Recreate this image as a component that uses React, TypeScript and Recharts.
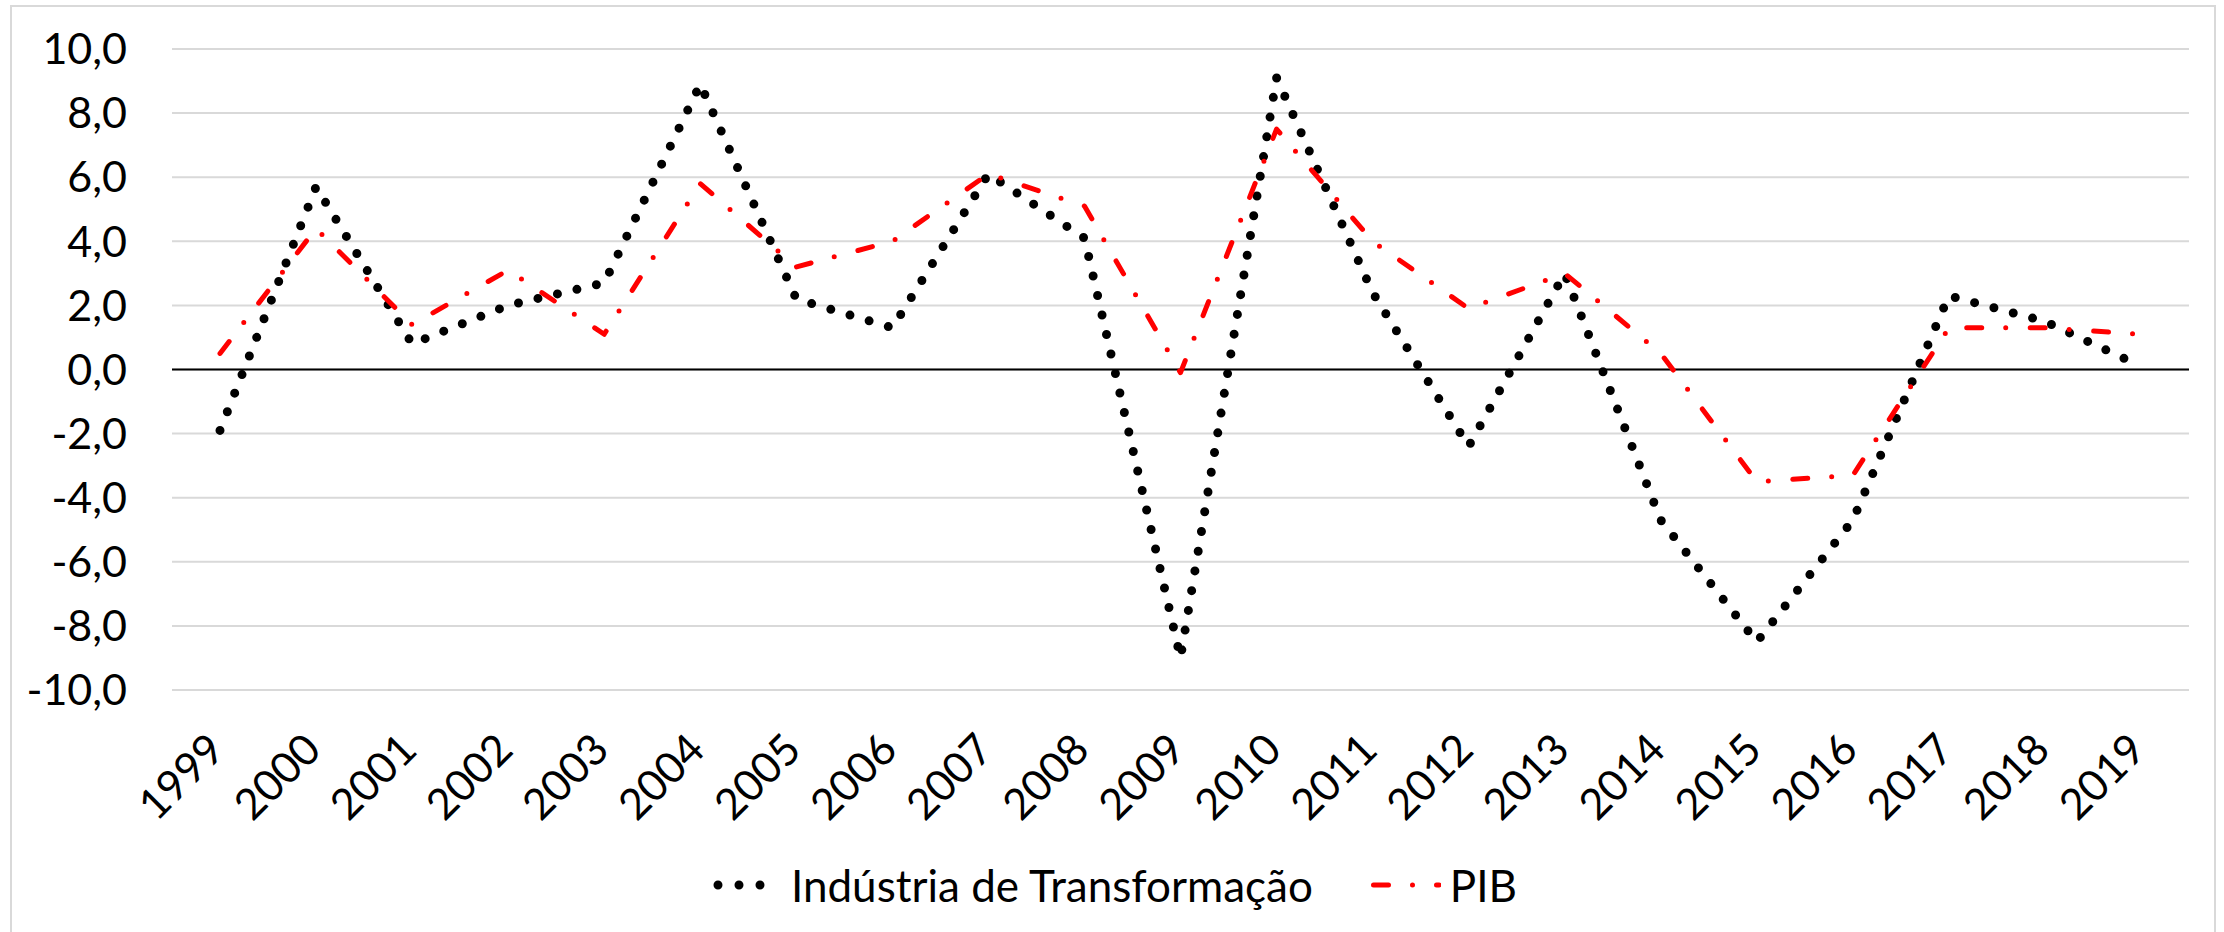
import React from "react";
import { LineChart, Line, XAxis, YAxis, CartesianGrid, ReferenceLine } from "recharts";

const years = [
  "1999", "2000", "2001", "2002", "2003", "2004", "2005", "2006", "2007", "2008", "2009",
  "2010", "2011", "2012", "2013", "2014", "2015", "2016", "2017", "2018", "2019",
];
const industria = [
  -1.9, 5.7, 0.8, 2.0, 2.7, 8.9, 2.2, 1.3, 6.1, 4.1, -9.0,
  9.1, 2.4, -2.4, 3.0, -4.7, -8.5, -4.7, 2.3, 1.5, 0.1,
];
const pib = [
  0.5, 4.4, 1.4, 3.1, 1.1, 5.8, 3.2, 4.0, 6.1, 5.1, -0.1,
  7.5, 4.0, 1.9, 3.0, 0.5, -3.5, -3.3, 1.3, 1.3, 1.1,
];
const yTicks = [-10, -8, -6, -4, -2, 0, 2, 4, 6, 8, 10];

const data = years.map((year, i) => ({ year, industria: industria[i], pib: pib[i] }));

const FONT = "Lato, 'Open Sans', sans-serif";

const YearTick = ({ x, y, payload }: any) => {
  const ax = x + 7;
  const ay = y + 60;
  return (
    <text
      x={ax}
      y={ay}
      textAnchor="end"
      transform={`rotate(-45 ${ax} ${ay})`}
      fontFamily={FONT}
      fontSize={43}
      fill="#000"
    >
      {payload.value}
    </text>
  );
};

const fmt = (v: number) => v.toFixed(1).replace(".", ",");

export default function App() {
  return (
    <div
      style={{
        position: "relative",
        width: 2224,
        height: 932,
        overflow: "hidden",
        background: "#fff",
      }}
    >
      <style>{`body{margin:0;}`}</style>
      <div
        style={{
          position: "absolute",
          left: 10,
          top: 5,
          width: 2206,
          height: 960,
          border: "2px solid #d9d9d9",
          boxSizing: "border-box",
        }}
      />
      <div style={{ position: "absolute", left: 0, top: 0 }}>
        <LineChart
          width={2224}
          height={932}
          data={data}
          margin={{ top: 49, right: 35, left: 72, bottom: 92 }}
        >
          <CartesianGrid vertical={false} stroke="#d9d9d9" strokeWidth={2} />
          <XAxis
            dataKey="year"
            padding={{ left: 48, right: 48 }}
            axisLine={false}
            tickLine={false}
            tickSize={0}
            height={150}
            interval={0}
            tick={<YearTick />}
          />
          <YAxis
            domain={[-10, 10]}
            ticks={yTicks}
            width={100}
            axisLine={false}
            tickLine={false}
            tickSize={0}
            tickMargin={45}
            tickFormatter={fmt}
            tick={{ fontFamily: FONT, fontSize: 43, fill: "#000" }}
          />
          <ReferenceLine y={0} stroke="#000" strokeWidth={2} />
          <Line
            dataKey="industria"
            type="linear"
            stroke="#000"
            strokeWidth={9}
            strokeDasharray="0 20"
            strokeLinecap="round"
            strokeLinejoin="round"
            dot={false}
            activeDot={false}
            isAnimationActive={false}
          />
          <Line
            dataKey="pib"
            type="linear"
            stroke="#ff0000"
            strokeWidth={5}
            strokeDasharray="15 24 0 24.5"
            strokeLinecap="round"
            strokeLinejoin="round"
            dot={false}
            activeDot={false}
            isAnimationActive={false}
          />
        </LineChart>
      </div>
      <div
        style={{
          position: "absolute",
          left: 0,
          top: 860,
          width: 2224,
          display: "flex",
          justifyContent: "center",
          alignItems: "center",
          fontFamily: FONT,
          fontSize: 44,
          color: "#000",
          paddingLeft: 6,
          boxSizing: "border-box",
        }}
      >
        <svg width={72} height={20} style={{ marginRight: 6 }}>
          <line
            x1={5}
            y1={10}
            x2={68}
            y2={10}
            stroke="#000"
            strokeWidth={9}
            strokeDasharray="0 21"
            strokeLinecap="round"
          />
        </svg>
        <span style={{ lineHeight: "50px" }}>Indústria de Transformação</span>
        <svg width={70} height={20} style={{ marginLeft: 58, marginRight: 9 }}>
          <line
            x1={2.5}
            y1={10}
            x2={68}
            y2={10}
            stroke="#ff0000"
            strokeWidth={5}
            strokeDasharray="15 24 0 24"
            strokeLinecap="round"
          />
        </svg>
        <span style={{ lineHeight: "50px" }}>PIB</span>
      </div>
    </div>
  );
}
